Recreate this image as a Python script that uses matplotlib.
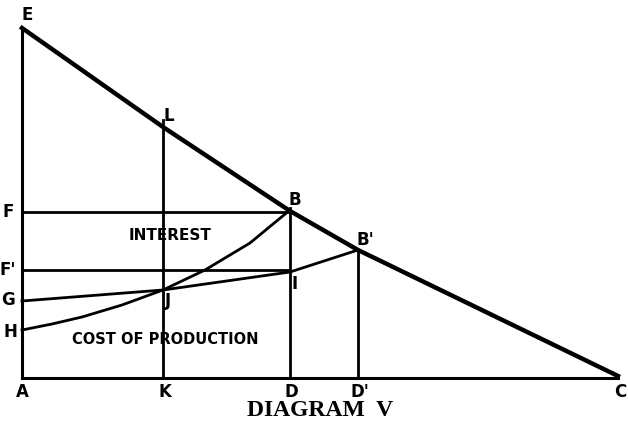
import matplotlib.pyplot as plt

# Demand curve E-L-B-B'-C (origin at A, units ~ pixels of the original)
demand_x = [0, 141, 268, 336, 596]
demand_y = [350, 251, 167, 128, 2]

# Cost of production curve H-J-B
cost_x = [0, 30, 60, 100, 141, 183, 228, 268]
cost_y = [48, 54, 61, 73, 88, 108, 135, 168]

# Line G-J-I-B'
g_x = [0, 141, 268, 336]
g_y = [77, 88, 106, 128]

# Verticals at K, D, D'
vert_x = [141, 268, 336]
vert_top = [258, 170, 128]

# Horizontals F and F'
horiz_y = [166, 108]
horiz_end = 268

point_labels = ['E', 'L', 'F', "F'", 'G', 'H', 'B', "B'", 'I', 'J',
                'A', 'K', 'D', "D'", 'C']
label_x = [5, 147, -14, -14, -14, -12, 273, 343, 273, 146,
           0, 143, 269, 338, 598]
label_y = [363, 262, 166, 108, 78, 46, 178, 138, 94, 77,
           -14, -14, -14, -14, -14]

fig = plt.figure(figsize=(6.28, 4.32), dpi=100)
ax = fig.add_axes([0, 0, 1, 1])
ax.set_xlim(-22, 606)
ax.set_ylim(-54, 378)
ax.axis('off')

lw = 2.0
ax.plot(demand_x, demand_y, color='black', lw=3.2, solid_joinstyle='round')
ax.plot([0, 0], [0, 350], color='black', lw=2.2)
ax.plot([0, 596], [0, 0], color='black', lw=2.2)
ax.plot(cost_x, cost_y, color='black', lw=lw, solid_joinstyle='round')
ax.plot(g_x, g_y, color='black', lw=lw, solid_joinstyle='round')
for x, top in zip(vert_x, vert_top):
    ax.plot([x, x], [0, top], color='black', lw=lw)
for y in horiz_y:
    ax.plot([0, horiz_end], [y, y], color='black', lw=lw)

for t, x, y in zip(point_labels, label_x, label_y):
    ax.text(x, y, t, fontsize=12, fontweight='bold', ha='center', va='center',
            family='DejaVu Sans')

ax.text(148, 143, 'INTEREST', fontsize=11, fontweight='bold',
        ha='center', va='center')
ax.text(143, 38, 'COST OF PRODUCTION', fontsize=10.5, fontweight='bold',
        ha='center', va='center')
ax.text(298, -32, 'DIAGRAM  V', fontsize=17, fontweight='bold',
        family='Liberation Serif', ha='center', va='center')

fig.savefig('out.png', dpi=100)
